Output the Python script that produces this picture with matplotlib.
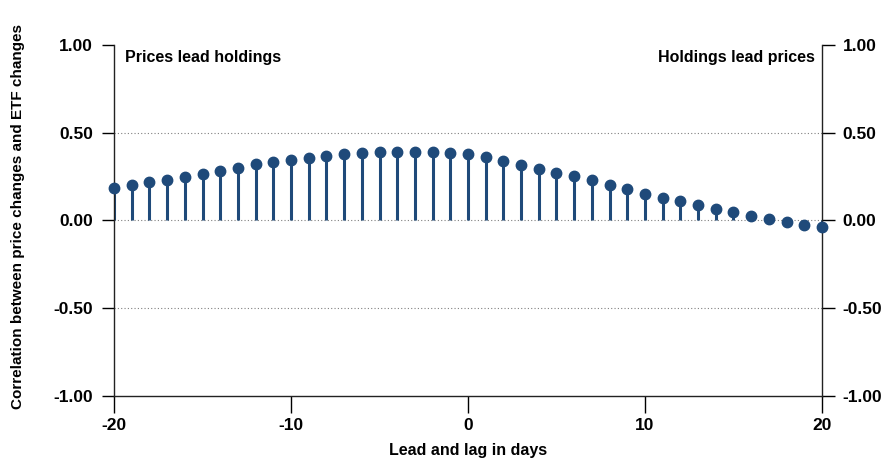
import numpy as np
import matplotlib
matplotlib.use("Agg")
import matplotlib.pyplot as plt

plt.rcParams['font.family'] = ['Liberation Sans', 'DejaVu Sans']
plt.rcParams['axes.unicode_minus'] = False

# lead/lag in days and correlation values
lags = list(range(-20, 21))
corr = [0.183, 0.200, 0.219, 0.232, 0.248, 0.267, 0.284, 0.301, 0.320, 0.333,
        0.347, 0.356, 0.366, 0.377, 0.385, 0.390, 0.392, 0.390, 0.390, 0.386,
        0.381, 0.360, 0.337, 0.314, 0.293, 0.272, 0.251, 0.229, 0.202, 0.177,
        0.152, 0.130, 0.110, 0.088, 0.067, 0.048, 0.027, 0.008, -0.011, -0.023,
        -0.038]
yticks = [-1.0, -0.5, 0.0, 0.5, 1.0]
xticks = [-20, -10, 0, 10, 20]

col = '#1f4a7a'

fig = plt.figure(figsize=(8.95, 4.61), dpi=100)
ax = fig.add_axes([0.1274, 0.141, 0.791, 0.7614])

for y in [0.5, 0.0, -0.5]:
    ax.axhline(y, color='#808080', lw=0.8, ls=(0, (1, 2)), zorder=1)

ax.vlines(lags, 0, corr, color=col, lw=2.2, zorder=2)
ax.plot(lags, corr, 'o', color=col, ms=7.5, zorder=3, clip_on=False)

ax.set_xlim(-20, 20)
ax.set_ylim(-1, 1)
ax.set_xticks(xticks)
ax.set_yticks(yticks)
ax.set_yticklabels([f'{v:.2f}' for v in yticks])
ax.spines['top'].set_visible(False)
for s in ['left', 'right', 'bottom']:
    ax.spines[s].set_color('#222222')
    ax.spines[s].set_linewidth(1.0)
ax.tick_params(axis='y', direction='out', length=9, width=1.0, right=True,
               labelright=True, labelsize=12.5, pad=6)
ax.tick_params(axis='x', direction='out', length=12, width=1.0,
               labelsize=12.5, pad=4)
for lab in ax.get_xticklabels() + ax.get_yticklabels():
    lab.set_fontweight('bold')
for t in ax.yaxis.get_major_ticks():
    t.label2.set_fontweight('bold')

ax.set_xlabel('Lead and lag in days', fontsize=11.5, fontweight='bold', labelpad=7)
ax.set_ylabel('Correlation between price changes and ETF changes', fontsize=11,
              fontweight='bold')
ax.yaxis.set_label_coords(-0.126, 0.51)

ax.text(0.015, 0.965, 'Prices lead holdings', transform=ax.transAxes,
        ha='left', va='center', fontsize=11.5, fontweight='bold')
ax.text(0.99, 0.965, 'Holdings lead prices', transform=ax.transAxes,
        ha='right', va='center', fontsize=11.5, fontweight='bold')

fig.savefig('out.png', dpi=100)
